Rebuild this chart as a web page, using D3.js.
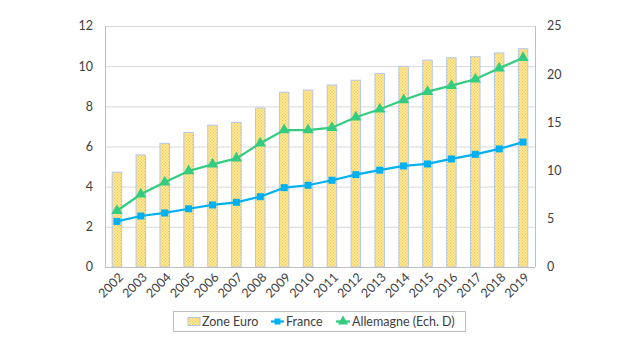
<!DOCTYPE html>
<html><head><meta charset="utf-8">
<script src="https://cdn.jsdelivr.net/npm/d3@7"></script>
<style>body{margin:0;background:#fff}svg{display:block}text{font-family:Lato,"Open Sans",sans-serif;fill:#404040}</style>
</head><body>
<svg id="c" width="640" height="350"></svg>
<script>
const years = ["2002","2003","2004","2005","2006","2007","2008","2009","2010","2011","2012","2013","2014","2015","2016","2017","2018","2019"];
const zoneEuro = [4.72,5.58,6.16,6.7,7.06,7.2,7.92,8.7,8.81,9.06,9.3,9.63,9.99,10.3,10.42,10.47,10.66,10.87];
const france = [2.27,2.54,2.69,2.9,3.09,3.22,3.5,3.95,4.07,4.32,4.6,4.82,5.03,5.13,5.38,5.61,5.88,6.22];
const allemagne = [5.84,7.54,8.79,9.96,10.65,11.27,12.83,14.2,14.2,14.45,15.53,16.36,17.32,18.19,18.81,19.47,20.61,21.71];
const leftTicks = [0,2,4,6,8,10,12];
const rightTicks = [0,5,10,15,20,25];
const legendLabels = ["Zone Euro","France","Allemagne (Ech. D)"];

const svg = d3.select("#c");
const m = {l:105, r:535, t:26, b:267};
const x = d3.scaleBand().domain(years).range([m.l, m.r]).paddingInner(0).paddingOuter(0);
const yL = d3.scaleLinear().domain([0,12]).range([m.b, m.t]);
const yR = d3.scaleLinear().domain([0,25]).range([m.b, m.t]);

const defs = svg.append("defs");
const pat = defs.append("pattern").attr("id","dots").attr("width",3).attr("height",3).attr("patternUnits","userSpaceOnUse");
pat.append("rect").attr("width",3).attr("height",3).attr("fill","#FFEBA0");
pat.append("rect").attr("x",0).attr("y",0).attr("width",1.2).attr("height",1.2).attr("fill","#F2C94C");
pat.append("rect").attr("x",1.5).attr("y",1.5).attr("width",1.2).attr("height",1.2).attr("fill","#F2C94C");

// gridlines
svg.append("g").selectAll("line").data(leftTicks).join("line")
  .attr("x1",m.l).attr("x2",m.r).attr("y1",d=>yL(d)+0.5).attr("y2",d=>yL(d)+0.5)
  .attr("stroke","#D9D9D9").attr("stroke-width",1);

// bars
const bw = 9.5;
svg.append("g").selectAll("rect").data(zoneEuro).join("rect")
  .attr("x",(d,i)=>x(years[i])+x.bandwidth()/2-bw/2)
  .attr("y",d=>yL(d))
  .attr("width",bw).attr("height",d=>yL(0)-yL(d))
  .attr("fill","url(#dots)").attr("stroke","#B4C7E7").attr("stroke-width",1);

// axis lines
svg.append("line").attr("x1",m.l+0.5).attr("x2",m.l+0.5).attr("y1",m.t).attr("y2",m.b).attr("stroke","#BFBFBF");
svg.append("line").attr("x1",m.r+0.5).attr("x2",m.r+0.5).attr("y1",m.t).attr("y2",m.b).attr("stroke","#BFBFBF");
svg.append("line").attr("x1",m.l).attr("x2",m.r).attr("y1",m.b+0.5).attr("y2",m.b+0.5).attr("stroke","#BFBFBF");

// left axis labels
svg.append("g").selectAll("text").data(leftTicks).join("text")
  .attr("x",93).attr("y",d=>yL(d)).attr("dy","0.35em").attr("text-anchor","end")
  .attr("font-size",12.5).text(d=>d);
// right axis labels
svg.append("g").selectAll("text").data(rightTicks).join("text")
  .attr("x",547).attr("y",d=>yR(d)).attr("dy","0.35em").attr("text-anchor","start")
  .attr("font-size",12.5).text(d=>d);
// x labels
svg.append("g").selectAll("text").data(years).join("text")
  .attr("transform",d=>`translate(${x(d)+x.bandwidth()/2+4},${m.b+8}) rotate(-45)`)
  .attr("text-anchor","end").attr("dy","0.35em").attr("font-size",12.5).text(d=>d);

const cx = (d,i)=>x(years[i])+x.bandwidth()/2;
// France
svg.append("path").datum(france)
  .attr("d",d3.line().x(cx).y(d=>yL(d)))
  .attr("fill","none").attr("stroke","#00B0F0").attr("stroke-width",2.25);
svg.append("g").selectAll("rect").data(france).join("rect")
  .attr("x",(d,i)=>cx(d,i)-3.5).attr("y",d=>yL(d)-3.5).attr("width",7).attr("height",7)
  .attr("fill","#00B0F0");
// Allemagne
svg.append("path").datum(allemagne)
  .attr("d",d3.line().x(cx).y(d=>yR(d)))
  .attr("fill","none").attr("stroke","#33CC80").attr("stroke-width",2.25);
const tri = d3.symbol().type(d3.symbolTriangle).size(55);
svg.append("g").selectAll("path").data(allemagne).join("path")
  .attr("transform",(d,i)=>`translate(${cx(d,i)},${yR(d)})`)
  .attr("d",tri).attr("fill","#33CC80");

// legend
const lg = svg.append("g");
lg.append("rect").attr("x",173.5).attr("y",311.5).attr("width",292).attr("height",20)
  .attr("fill","#fff").attr("stroke","#BFBFBF");
const ly = 321.5;
lg.append("rect").attr("x",188).attr("y",ly-4).attr("width",12).attr("height",8)
  .attr("fill","url(#dots)").attr("stroke","#B4C7E7");
lg.append("text").attr("x",202).attr("y",ly).attr("dy","0.35em").attr("font-size",12.5).text(legendLabels[0]);
lg.append("line").attr("x1",271).attr("x2",284).attr("y1",ly).attr("y2",ly).attr("stroke","#00B0F0").attr("stroke-width",2.25);
lg.append("rect").attr("x",274.5).attr("y",ly-3).attr("width",6).attr("height",6).attr("fill","#00B0F0");
lg.append("text").attr("x",286).attr("y",ly).attr("dy","0.35em").attr("font-size",12.5).text(legendLabels[1]);
lg.append("line").attr("x1",336).attr("x2",350).attr("y1",ly).attr("y2",ly).attr("stroke","#33CC80").attr("stroke-width",2.25);
lg.append("path").attr("transform",`translate(343,${ly})`).attr("d",d3.symbol().type(d3.symbolTriangle).size(45)).attr("fill","#33CC80");
lg.append("text").attr("x",352).attr("y",ly).attr("dy","0.35em").attr("font-size",12.5).text(legendLabels[2]);
</script>
</body></html>
